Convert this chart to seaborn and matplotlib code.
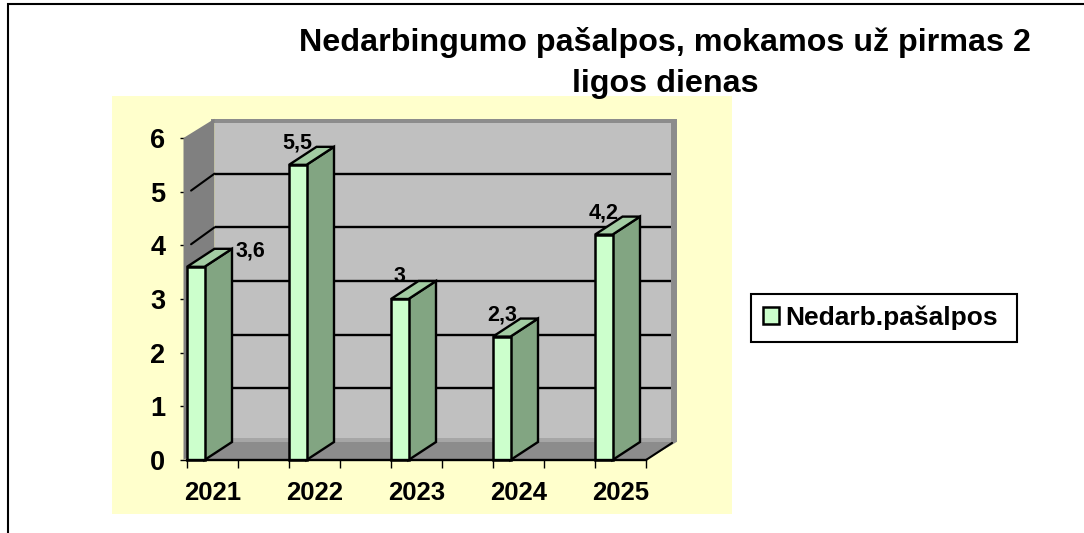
import matplotlib
matplotlib.use("Agg")
import matplotlib.pyplot as plt
import seaborn as sns
import pandas as pd
from matplotlib.lines import Line2D
from matplotlib.patches import Polygon, Rectangle

years = ["2021", "2022", "2023", "2024", "2025"]
values = [3.6, 5.5, 3.0, 2.3, 4.2]
value_labels = ["3,6", "5,5", "3", "2,3", "4,2"]
y_ticks = [0, 1, 2, 3, 4, 5, 6]
series_name = "Nedarb.pašalpos"
title_text = "Nedarbingumo pašalpos, mokamos už pirmas 2\nligos dienas"

W, H = 1084, 533
sns.set_theme(style="white")
plt.rcParams["font.family"] = ["Liberation Sans", "DejaVu Sans"]
plt.rcParams["font.weight"] = "bold"

fig = plt.figure(figsize=(W / 100, H / 100), dpi=100, facecolor="white")


def fx(px):
    return px / W


def fy(py):
    return 1 - py / H


# chart area and outer frame
fig.add_artist(Rectangle((fx(112), fy(514)), fx(732) - fx(112), fy(96) - fy(514),
                         transform=fig.transFigure, facecolor="#FFFFCC", edgecolor="none", zorder=-5))
fig.add_artist(Line2D([fx(8), fx(8), fx(1084)], [fy(533), fy(4), fy(4)], transform=fig.transFigure,
                      color="black", lw=1.5, solid_joinstyle="miter"))

# front plane of the 3D box
left, right, bottom, top = 187, 646, 460, 138
ax = fig.add_axes([fx(left), fy(bottom), fx(right) - fx(left), fy(top) - fy(bottom)])
ax.patch.set_alpha(0)

df = pd.DataFrame({"year": years, "value": values})
bar_w = 17.5 / 102
sns.barplot(data=df, x="year", y="value", ax=ax, color="#CCFFCC", width=bar_w, saturation=1,
            edgecolor="black", linewidth=1.8, label=series_name, zorder=5, clip_on=False)

x0 = -bar_w / 2
ax.set_xlim(x0, x0 + 4.5)
ax.set_ylim(0, 6)
ddx = 27.5 * 4.5 / (right - left)
ddy = 18 * 6 / (bottom - top)
wall = 3.5 * 4.5 / (right - left)
band = 3 * 6 / (bottom - top)

# walls and floor
x1 = x0 + 4.5
xb = x1 + ddx + wall * 0.9  # outer right edge of the back wall
xg = xb - wall * 1.6        # right end of the visible wall face
ax.add_patch(Rectangle((x0 + ddx, ddy), xb - x0 - ddx, 6, facecolor="#C0C0C0", edgecolor="none", zorder=1,
                       clip_on=False))
ax.add_patch(Polygon([(x0 + ddx - wall, 6 + ddy - band), (xb, 6 + ddy - band),
                      (xb, 6 + ddy + band * 0.4), (x0 + ddx - wall, 6 + ddy + band * 0.4)],
                     facecolor="#8C8C8C", edgecolor="none", zorder=1.1, clip_on=False))
ax.add_patch(Polygon([(x0 - wall, 0), (x0 + ddx, ddy), (x0 + ddx, 6 + ddy + band * 0.4), (x0 - wall, 6)],
                     facecolor="#808080", edgecolor="none", zorder=1.2, clip_on=False))
ax.add_patch(Polygon([(xg, ddy), (xb, ddy), (xb, 6 + ddy + band * 0.4), (xg, 6 + ddy + band * 0.4)],
                     facecolor="#8C8C8C", edgecolor="none", zorder=1.2, clip_on=False))
ax.add_patch(Polygon([(x0, 0), (x1, 0), (xb, ddy), (x0 + ddx, ddy)],
                     facecolor="#8C8C8C", edgecolor="none", zorder=1.5, clip_on=False))
ax.add_patch(Rectangle((x0 + ddx, ddy), xg - x0 - ddx, 0.07, facecolor="#A6A6A6", edgecolor="none",
                       zorder=1.6, clip_on=False))

# gridlines on the back and left walls
for t in y_ticks[1:-1]:
    ax.plot([x0 + ddx, xg], [t + ddy, t + ddy], color="black", lw=1.7, zorder=2,
            clip_on=False, solid_capstyle="butt")
    ax.plot([x0 + 0.04, x0 + ddx], [t + 0.02, t + ddy], color="black", lw=1.5, zorder=2, clip_on=False)
ax.plot([x1, x1 + ddx * 0.95], [0, ddy * 0.95], color="black", lw=1.5, zorder=2, clip_on=False)

# bar sides and tops
bars = ax.patches[:len(values)]
for b, lab, i in zip(bars, value_labels, range(len(values))):
    xl, w, h = b.get_x(), b.get_width(), b.get_height()
    ax.add_patch(Polygon([(xl + w, 0), (xl + w + ddx, ddy), (xl + w + ddx, h + ddy), (xl + w, h)],
                         facecolor="#82A582", edgecolor="black", lw=1.7, zorder=4, clip_on=False))
    ax.add_patch(Polygon([(xl, h), (xl + ddx, h + ddy), (xl + w + ddx, h + ddy), (xl + w, h)],
                         facecolor="#A3CCA3", edgecolor="black", lw=1.7, zorder=4, clip_on=False))
    off = (54.5, 16) if i == 0 else (0, 22)
    ax.annotate(lab, (xl + w / 2, h), xytext=(off[0] * 0.72, off[1] * 0.72), textcoords="offset points",
                ha="center", va="center", fontsize=15.5, fontweight="bold", color="black", zorder=6,
                annotation_clip=False)

# axes
for s in ["top", "right", "left"]:
    ax.spines[s].set_visible(False)
ax.spines["bottom"].set_color("black")
ax.spines["bottom"].set_linewidth(1.7)
ax.spines["bottom"].set_zorder(7)
ax.set_xlabel("")
ax.set_ylabel("")
ax.set_yticks(y_ticks)
ax.tick_params(axis="y", left=True, length=5, width=1, color="black", labelsize=19.5, pad=10.5)
ax.set_xticks([x0 + 0.5 * k for k in range(10)], labels=[""] * 10)
ax.tick_params(axis="x", which="major", bottom=True, length=6, width=1, color="black")
ax.set_xticks([k + 0.25 - bar_w / 2 for k in range(5)], labels=years, minor=True)
ax.tick_params(axis="x", which="minor", bottom=False, labelsize=18.5, pad=11)
for lbl in ax.get_xticklabels(minor=True) + ax.get_yticklabels():
    lbl.set_fontweight("bold")
    lbl.set_color("black")
ax.grid(False)

# legend
leg = ax.legend(loc="lower left", bbox_to_anchor=(fx(751), fy(342), fx(1017) - fx(751), fy(295) - fy(342)),
                bbox_transform=fig.transFigure, mode="expand",
                frameon=True, fancybox=False, framealpha=1, edgecolor="black", fontsize=19,
                handlelength=0.62, handleheight=0.62, handletextpad=0.24, borderpad=0.45, borderaxespad=0)
leg.get_frame().set_linewidth(1.5)
leg.set_zorder(10)
for h_ in leg.get_patches():
    h_.set_linewidth(1.8)
for t in leg.get_texts():
    t.set_fontweight("bold")
    t.set_color("black")

fig.text(fx(665), fy(63), title_text, ha="center", va="center", fontsize=23.2, fontweight="bold",
         color="black", linespacing=1.47, zorder=8)

fig.savefig("out.png", dpi=100, facecolor="white")
